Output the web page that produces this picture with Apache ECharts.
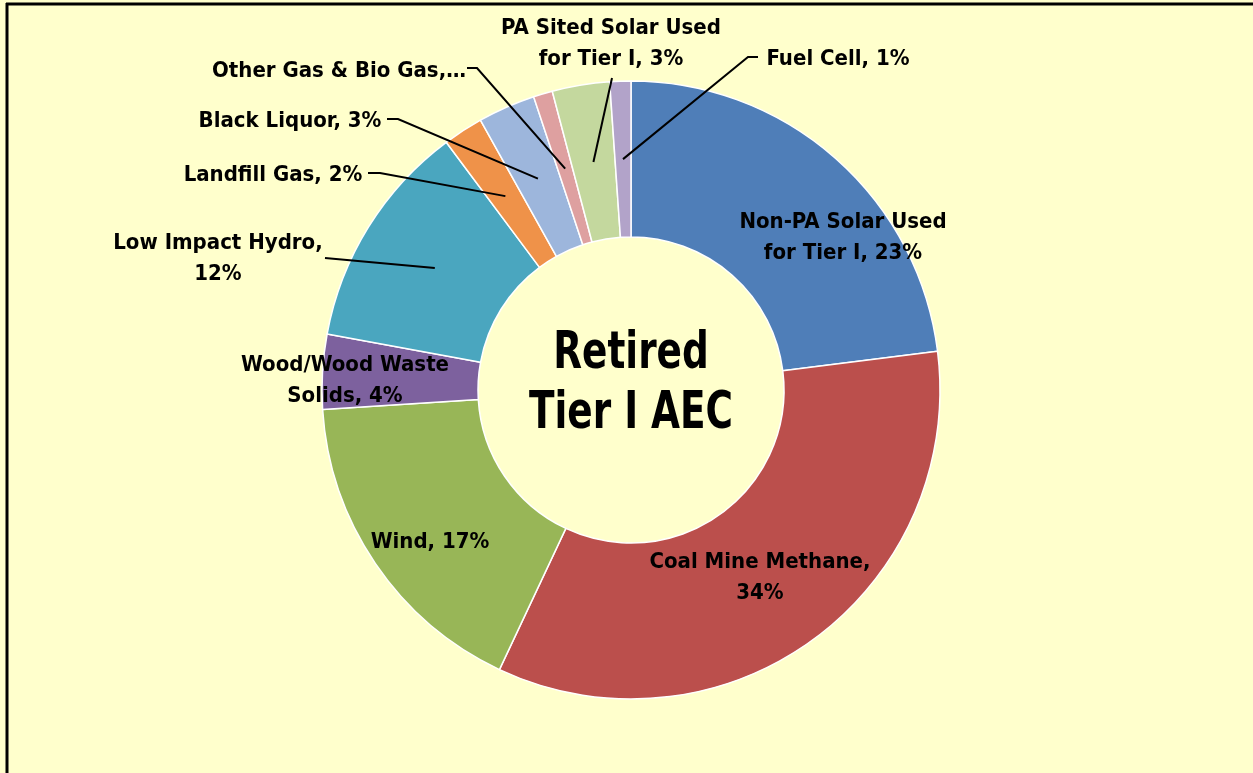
<!DOCTYPE html>
<html>
<head>
<meta charset="utf-8">
<title>Retired Tier I AEC</title>
<script src="https://cdn.jsdelivr.net/npm/echarts@6/dist/echarts.min.js"></script>
<style>
    html, body { margin: 0; padding: 0; background: #ffffcc; }
    #chart { width: 1253px; height: 773px; }
</style>
</head>
<body>
<div id="chart"></div>
<script>
// 数据：各类别及其占比（%）
var categories = ['Non-PA Solar Used for Tier I', 'Coal Mine Methane', 'Wind', 'Wood/Wood Waste Solids',
    'Low Impact Hydro', 'Landfill Gas', 'Black Liquor', 'Other Gas & Bio Gas',
    'PA Sited Solar Used for Tier I', 'Fuel Cell'];
var shares = [23.0, 34.0, 17.0, 3.9, 11.9, 2.1, 3.0, 1.0, 3.0, 1.1];
// 标签文字（{d} 为百分比）
var labelTexts = ['Non-PA Solar Used\nfor Tier I, {d}%', 'Coal Mine Methane,\n{d}%', 'Wind, {d}%',
    'Wood/Wood Waste\nSolids, {d}%', 'Low Impact Hydro,\n{d}%', 'Landfill Gas, {d}%', 'Black Liquor, {d}%',
    'Other Gas & Bio Gas,\u2026', 'PA Sited Solar Used\nfor Tier I, {d}%', 'Fuel Cell, {d}%'];

(function () {
    var colors = ['#4f7eb8', '#bb4f4c', '#98b657', '#7d619e', '#4aa6bf', '#ef9249',
        '#9db6dc', '#dea0a0', '#c4d89e', '#b2a3c9'];
    var font = '"Liberation Sans Narrow", "Arial Narrow", "DejaVu Sans Condensed", sans-serif';
    var cx = 631, cy = 390, r0 = 153, r1 = 309;

    // 标签中心位置
    var labelPos = [[843, 238], [760, 578], [430, 542], [345, 381], [218, 259],
        [273, 175], [290, 121], [339, 71], [611, 44], [838, 59]];
    // 引导线靠近标签一端的点（内部标签为 null）
    var lineEnds = [null, null, null, null,
        [[325, 258]],
        [[380, 173], [368, 173]],
        [[398, 119], [387, 119]],
        [[477, 68], [467, 68]],
        [[612, 78]],
        [[748, 57], [758, 57]]];

    // 引导线在扇区内的起点：扇区中线与环中间半径的交点
    var total = shares.reduce(function (a, b) { return a + b; }, 0);
    var rm = (r0 + r1) / 2;
    var cum = 0;
    var anchors = shares.map(function (v) {
        var a = (cum + v / 2) / total * Math.PI * 2;
        cum += v;
        return [cx + rm * Math.sin(a), cy - rm * Math.cos(a)];
    });

    var data = categories.map(function (name, i) {
        return {
            name: name,
            value: shares[i],
            itemStyle: { color: colors[i] },
            label: { formatter: labelTexts[i] }
        };
    });

    // 引导线画在扇区上方
    var leaders = [];
    lineEnds.forEach(function (ends, i) {
        if (!ends) return;
        leaders.push({
            type: 'polyline',
            z: 20,
            silent: true,
            shape: { points: [anchors[i]].concat(ends) },
            style: { stroke: '#000', lineWidth: 2, fill: null }
        });
    });

    var myChart = echarts.init(document.getElementById('chart'));
    var option = {
        backgroundColor: '#ffffcc',
        animation: false,
        graphic: [
            // 左边和上边的黑色边框
            {
                type: 'line',
                shape: { x1: 7, y1: 3, x2: 7, y2: 773 },
                style: { stroke: '#000', lineWidth: 3 }
            },
            {
                type: 'line',
                shape: { x1: 6, y1: 4, x2: 1253, y2: 4 },
                style: { stroke: '#000', lineWidth: 3 }
            },
            {
                // 中心标题，横向压缩成窄体字
                type: 'text',
                x: cx,
                y: 384,
                scaleX: 0.8,
                z: 10,
                style: {
                    text: 'Retired\nTier I AEC',
                    fill: '#000',
                    fontSize: 52,
                    fontWeight: 'bold',
                    fontFamily: font,
                    lineHeight: 60,
                    align: 'center',
                    verticalAlign: 'middle'
                }
            }
        ].concat(leaders),
        series: [
            {
                type: 'pie',
                center: [cx, cy],
                radius: [r0, r1],
                startAngle: 90,
                clockwise: true,
                percentPrecision: 0,
                avoidLabelOverlap: false,
                emphasis: { disabled: true },
                itemStyle: {
                    borderColor: '#ffffff',
                    borderWidth: 1.5
                },
                label: {
                    position: 'inside',
                    color: '#000',
                    fontSize: 22,
                    fontWeight: 'bold',
                    fontFamily: font,
                    lineHeight: 31,
                    align: 'center'
                },
                labelLine: { show: false },
                // 把标签移到参考图的位置
                labelLayout: function (params) {
                    var i = params.dataIndex;
                    return {
                        x: labelPos[i][0],
                        y: labelPos[i][1],
                        align: 'center',
                        verticalAlign: 'middle'
                    };
                },
                data: data
            }
        ]
    };
    myChart.setOption(option);
})();
</script>
</body>
</html>
